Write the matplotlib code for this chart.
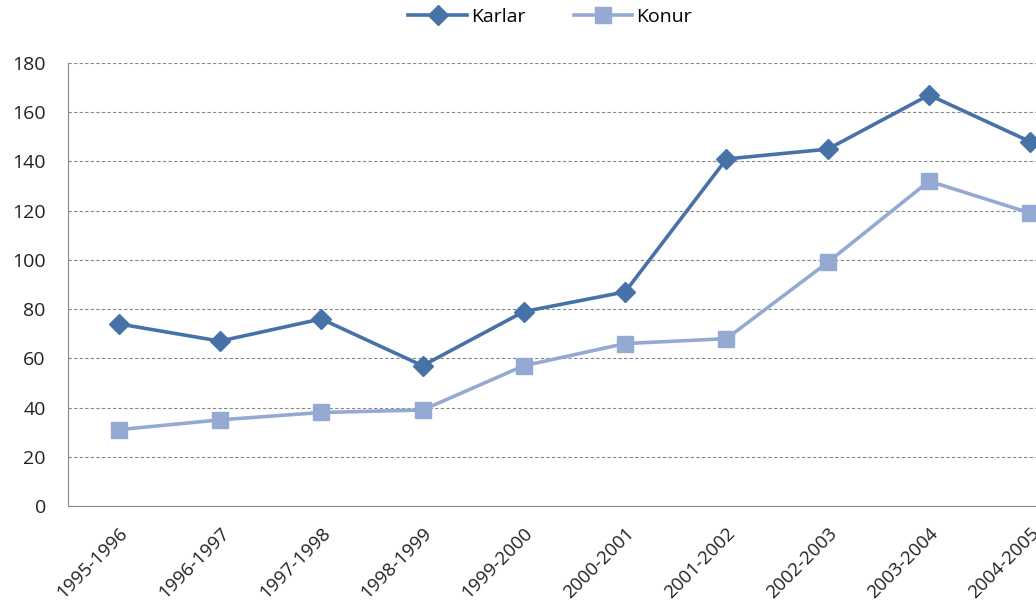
import matplotlib.pyplot as plt

seasons = ['1995-1996', '1996-1997', '1997-1998', '1998-1999', '1999-2000',
           '2000-2001', '2001-2002', '2002-2003', '2003-2004', '2004-2005']
karlar = [74, 67, 76, 57, 79, 87, 141, 145, 167, 148]
konur = [31, 35, 38, 39, 57, 66, 68, 99, 132, 119]

plt.rcParams['font.family'] = ['Open Sans', 'DejaVu Sans']

W, H = 1036, 608
fig = plt.figure(figsize=(W / 100, H / 100), dpi=100)
# plot area runs past the right edge of the picture, as in the original
ax = fig.add_axes([68 / W, (H - 506) / H, 1013 / W, (506 - 63) / H])

x = range(len(seasons))
ax.plot(x, karlar, color='#4672A8', linewidth=2.6, marker='D', markersize=10,
        label='Karlar', clip_on=False, zorder=3)
ax.plot(x, konur, color='#95AAD2', linewidth=2.6, marker='s', markersize=11,
        label='Konur', clip_on=False, zorder=3)

ax.set_xlim(-0.5, len(seasons) - 0.5)
ax.set_ylim(0, 180)
ax.set_yticks(range(0, 181, 20))
ax.set_xticks(list(x))
ax.set_xticklabels(seasons, rotation=45, ha='right', rotation_mode='anchor')
ax.tick_params(axis='both', length=0, labelsize=14, colors='#222222')
ax.tick_params(axis='x', labelsize=13.5, pad=13)
ax.tick_params(axis='y', pad=16)

ax.grid(axis='y', color='#888888', linestyle=(0, (3, 2)), linewidth=0.8)
ax.set_axisbelow(True)
for s in ['top', 'right']:
    ax.spines[s].set_visible(False)
ax.spines['left'].set_color('#888888')
ax.spines['bottom'].set_color('#888888')

fig.legend(loc='center', bbox_to_anchor=(550 / W, 1 - 17 / H), ncol=2,
           frameon=False, fontsize=14, handlelength=3, columnspacing=2.5,
           handletextpad=0.2)

fig.savefig('out.png', dpi=100)
